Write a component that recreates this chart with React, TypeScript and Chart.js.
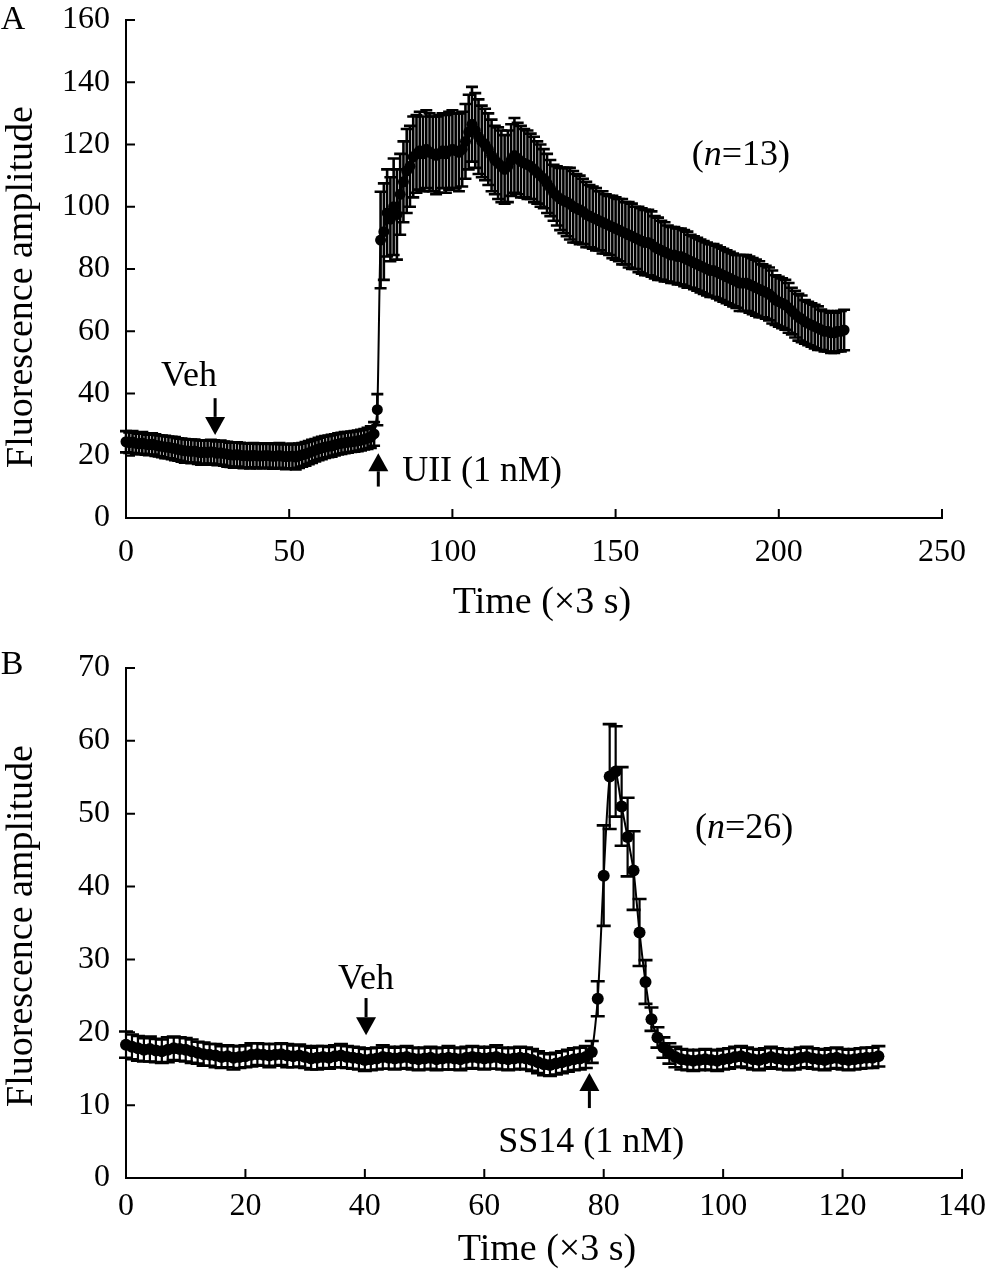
import React, { useEffect, useRef } from "react";
import { Chart, registerables } from "chart.js";
Chart.register(...registerables);

// ---------------- Panel A data ----------------
const meanA = [
  24.5, 24.2, 24.4, 24.0, 23.8, 24.1, 23.7, 23.5, 23.8, 23.4,
  23.2, 23.0, 22.8, 22.7, 22.5, 22.3, 22.0, 21.8, 21.6, 21.5,
  21.4, 21.5, 21.2, 21.0, 21.2, 21.0, 21.3, 21.1, 20.8, 21.0,
  20.7, 20.5, 20.3, 20.2, 20.4, 20.2, 20.0, 20.1, 19.9, 20.2,
  20.0, 19.9, 20.0, 20.1, 20.0, 19.8, 19.9, 20.1, 19.8, 19.7,
  19.8, 19.9, 19.6, 20.0, 20.3, 20.6, 21.0, 21.4, 21.8, 22.2,
  22.5, 22.8, 23.0, 23.2, 23.5, 23.8, 24.0, 24.2, 24.3, 24.5,
  24.6, 24.8, 25.0, 25.3, 25.6, 26.0, 27.0, 34.8, 89.3, 92.0,
  98.0, 96.0, 100.0, 97.5, 104.0, 108.0, 111.5, 113.0, 116.0, 117.0,
  118.0, 117.0, 118.5, 117.5, 117.0, 116.5, 117.0, 118.0, 117.0, 118.0,
  118.5, 118.0, 117.5, 118.5, 121.0, 124.0, 126.5, 124.5, 122.5, 121.0,
  120.0, 118.5, 116.5, 115.0, 114.0, 113.0, 112.0, 113.0, 115.0, 116.5,
  115.5, 114.5, 114.0, 113.5, 113.0, 112.0, 111.0, 110.0, 109.0, 107.5,
  106.0, 104.5, 103.5, 102.5, 102.0, 101.5, 101.0, 100.0, 99.5, 99.0,
  98.5, 97.5, 97.0, 96.5, 96.0, 95.5, 95.0, 94.5, 94.0, 93.5,
  93.0, 92.5, 92.0, 91.5, 91.0, 90.5, 90.0, 89.5, 89.0, 88.5,
  88.5, 88.0, 87.0, 86.5, 86.0, 85.5, 85.0, 84.5, 84.5, 84.0,
  84.0, 83.5, 83.0, 82.5, 82.0, 81.5, 81.0, 80.5, 80.0, 79.5,
  79.5, 79.0, 78.5, 78.0, 77.5, 77.0, 76.5, 76.0, 75.5, 75.5,
  75.5, 75.0, 74.5, 74.0, 73.5, 73.0, 72.5, 72.0, 71.0, 70.0,
  69.5, 69.0, 68.5, 67.5, 66.5, 65.5, 64.5, 64.0, 63.0, 62.5,
  62.0, 61.5, 61.0, 60.5, 60.0, 60.0, 59.5, 59.5, 60.0, 60.0,
  60.4,
];
const semA = [
  3.4, 3.3, 3.5, 3.4, 3.3, 3.5, 3.4, 3.3, 3.4, 3.5,
  3.4, 3.5, 3.6, 3.5, 3.6, 3.7, 3.6, 3.7, 3.8, 3.7,
  3.8, 3.7, 3.8, 3.9, 3.8, 3.9, 3.8, 3.9, 3.8, 3.9,
  3.9, 4.0, 3.9, 4.0, 3.9, 4.0, 4.0, 3.9, 4.0, 3.9,
  4.0, 3.9, 4.0, 3.9, 4.0, 4.0, 3.9, 4.0, 3.9, 4.0,
  4.0, 3.9, 4.0, 3.9, 3.8, 3.8, 3.7, 3.7, 3.6, 3.6,
  3.6, 3.5, 3.5, 3.5, 3.4, 3.4, 3.4, 3.4, 3.3, 3.3,
  3.3, 3.3, 3.3, 3.3, 3.4, 3.5, 3.8, 5.0, 15.5, 15.5,
  14.0, 13.5, 15.5, 14.5, 13.0, 13.0, 13.5, 13.0, 13.0, 12.5,
  12.5, 12.0, 12.5, 12.5, 12.0, 12.5, 12.5, 12.0, 12.5, 12.5,
  12.5, 12.0, 12.5, 12.0, 12.0, 12.0, 12.0, 12.0, 12.0, 11.5,
  11.5, 11.5, 11.5, 11.0, 11.5, 11.5, 11.0, 11.5, 11.5, 12.0,
  11.5, 11.5, 11.0, 11.0, 10.5, 10.5, 10.0, 10.0, 9.5, 9.5,
  9.0, 9.0, 9.5, 10.0, 10.5, 11.0, 11.5, 11.5, 11.0, 11.0,
  10.5, 10.5, 10.0, 10.0, 10.0, 9.5, 10.0, 9.5, 9.5, 10.0,
  10.0, 10.0, 10.5, 10.0, 10.5, 10.5, 10.0, 10.5, 10.5, 10.5,
  10.5, 10.5, 10.0, 10.0, 9.5, 9.5, 9.0, 9.0, 9.0, 9.0,
  9.0, 9.0, 9.0, 8.5, 8.5, 8.5, 8.5, 8.5, 8.5, 8.5,
  8.5, 8.5, 8.5, 8.5, 8.5, 8.5, 8.5, 8.5, 9.0, 9.0,
  9.0, 9.0, 9.0, 9.0, 9.0, 8.5, 8.5, 8.5, 8.5, 8.0,
  8.0, 8.0, 8.0, 8.0, 7.5, 7.5, 7.5, 7.5, 7.0, 7.0,
  7.0, 7.0, 7.0, 6.5, 6.5, 6.5, 6.5, 6.5, 6.5, 6.5,
  6.5,
];
const xTicksA = [0, 50, 100, 150, 200, 250];
const yTicksA = [0, 20, 40, 60, 80, 100, 120, 140, 160];

// ---------------- Panel B data ----------------
const meanB = [
  18.3, 18.0, 17.8, 17.6, 17.7, 17.5, 17.4, 17.6, 17.8, 17.7,
  17.6, 17.4, 17.2, 17.0, 16.9, 16.8, 16.6, 16.7, 16.5, 16.6,
  16.7, 16.9, 17.0, 16.9, 16.8, 16.9, 17.0, 16.8, 16.7, 16.8,
  16.6, 16.4, 16.5, 16.6, 16.5, 16.7, 16.8, 16.6, 16.5, 16.4,
  16.2, 16.3, 16.4, 16.6, 16.5, 16.4, 16.5, 16.6, 16.4, 16.3,
  16.4, 16.5, 16.3, 16.4, 16.5, 16.4, 16.3, 16.5, 16.6, 16.5,
  16.4, 16.5, 16.6, 16.4, 16.3, 16.4, 16.5, 16.4, 16.2, 15.9,
  15.6, 15.5, 15.7, 15.9, 16.1, 16.3, 16.4, 16.6, 17.3, 24.6,
  41.5, 55.1, 55.8, 51.0, 46.8, 42.2, 33.7, 26.9, 21.8, 19.3,
  17.9, 17.1, 16.6, 16.3, 16.2, 16.1, 16.2, 16.3, 16.2, 16.1,
  16.3, 16.4, 16.6, 16.7, 16.5, 16.3, 16.2, 16.4, 16.6, 16.4,
  16.3, 16.2, 16.3, 16.5, 16.6, 16.4, 16.3, 16.2, 16.4, 16.5,
  16.3, 16.2, 16.3, 16.4, 16.5, 16.5, 16.7,
];
const semB = [
  1.8, 1.7, 1.7, 1.6, 1.7, 1.6, 1.6, 1.7, 1.6, 1.6,
  1.6, 1.6, 1.5, 1.6, 1.5, 1.6, 1.5, 1.5, 1.6, 1.5,
  1.5, 1.6, 1.5, 1.5, 1.6, 1.5, 1.5, 1.6, 1.5, 1.5,
  1.5, 1.5, 1.6, 1.5, 1.5, 1.5, 1.6, 1.5, 1.5, 1.5,
  1.5, 1.5, 1.5, 1.6, 1.5, 1.5, 1.5, 1.5, 1.5, 1.5,
  1.5, 1.5, 1.5, 1.5, 1.6, 1.5, 1.5, 1.5, 1.5, 1.5,
  1.5, 1.5, 1.6, 1.5, 1.5, 1.5, 1.5, 1.5, 1.5, 1.5,
  1.5, 1.5, 1.5, 1.5, 1.5, 1.5, 1.5, 1.5, 1.5, 2.4,
  6.9, 7.2, 6.2, 5.4, 5.4, 5.4, 4.6, 3.0, 1.6, 1.4,
  1.4, 1.4, 1.4, 1.4, 1.4, 1.4, 1.4, 1.4, 1.4, 1.4,
  1.4, 1.4, 1.4, 1.4, 1.4, 1.4, 1.4, 1.4, 1.4, 1.4,
  1.4, 1.4, 1.4, 1.4, 1.4, 1.4, 1.4, 1.4, 1.4, 1.4,
  1.4, 1.4, 1.4, 1.4, 1.4, 1.4, 1.4,
];
const xTicksB = [0, 20, 40, 60, 80, 100, 120, 140];
const yTicksB = [0, 10, 20, 30, 40, 50, 60, 70];

const timeA = meanA.map((_, i) => i);
const timeB = meanB.map((_, i) => i);

const FONT = '"Liberation Serif", "Times New Roman", serif';
const TICK_SIZE = 32;
const NOTE_SIZE = 36;
const TITLE_SIZE = 38;

type Note = { parts: { t: string; italic?: boolean }[]; x: number; y: number; align: "left" | "center" };
type Arrow = { x: number; from: number; to: number };
type Spec = {
  letter: string;
  xs: number[]; means: number[]; sems: number[];
  xTicks: number[]; yTicks: number[];
  height: number; padTop: number; padRight: number; xAxisH: number;
  pointR: number; capHalf: number; stemW: number; capW: number; xTickPad: number;
  letterPos: [number, number];
  yTitleY: number; xTitleX: number; xTitleY: number;
  notes: Note[]; arrows: Arrow[];
};

const specA: Spec = {
  letter: "A",
  xs: timeA, means: meanA, sems: semA,
  xTicks: xTicksA, yTicks: yTicksA,
  height: 640, padTop: 20, padRight: 48, xAxisH: 122,
  pointR: 5.5, capHalf: 6, stemW: 2.6, capW: 2.6, xTickPad: 15,
  letterPos: [13, 20],
  yTitleY: 287, xTitleX: 542, xTitleY: 603,
  notes: [
    { parts: [{ t: "Veh" }], x: 19.3, y: 45.6, align: "center" },
    { parts: [{ t: "UII (1 nM)" }], x: 84.6, y: 14.8, align: "left" },
    { parts: [{ t: "(" }, { t: "n", italic: true }, { t: "=13)" }], x: 188.4, y: 116.6, align: "center" },
  ],
  arrows: [
    { x: 27.3, from: 38.5, to: 26.7 },
    { x: 77.3, from: 10.1, to: 20.8 },
  ],
};

const specB: Spec = {
  letter: "B",
  xs: timeB, means: meanB, sems: semB,
  xTicks: xTicksB, yTicks: yTicksB,
  height: 640, padTop: 28, padRight: 28, xAxisH: 102,
  pointR: 6, capHalf: 7, stemW: 2.2, capW: 2.6, xTickPad: 9,
  letterPos: [12, 25],
  yTitleY: 286, xTitleX: 547, xTitleY: 610,
  notes: [
    { parts: [{ t: "Veh" }], x: 40.2, y: 27.2, align: "center" },
    { parts: [{ t: "SS14 (1 nM)" }], x: 77.9, y: 4.8, align: "center" },
    { parts: [{ t: "(" }, { t: "n", italic: true }, { t: "=26)" }], x: 103.5, y: 47.9, align: "center" },
  ],
  arrows: [
    { x: 40.2, from: 24.7, to: 19.6 },
    { x: 77.6, from: 9.6, to: 14.4 },
  ],
};

function drawArrow(ctx: CanvasRenderingContext2D, x: number, yTail: number, yTip: number) {
  const dir = Math.sign(yTip - yTail);
  const headLen = 18;
  const headHalf = 10;
  ctx.lineWidth = 3;
  ctx.beginPath();
  ctx.moveTo(x, yTail);
  ctx.lineTo(x, yTip - dir * headLen);
  ctx.stroke();
  ctx.beginPath();
  ctx.moveTo(x, yTip);
  ctx.lineTo(x - headHalf, yTip - dir * headLen);
  ctx.lineTo(x + headHalf, yTip - dir * headLen);
  ctx.closePath();
  ctx.fill();
}

function drawParts(ctx: CanvasRenderingContext2D, parts: { t: string; italic?: boolean }[], x: number, y: number, align: "left" | "center", size: number) {
  const fontFor = (it?: boolean) => `${it ? "italic " : ""}${size}px ${FONT}`;
  let total = 0;
  for (const p of parts) {
    ctx.font = fontFor(p.italic);
    total += ctx.measureText(p.t).width;
  }
  let cx = align === "center" ? x - total / 2 : x;
  ctx.textAlign = "left";
  ctx.textBaseline = "middle";
  for (const p of parts) {
    ctx.font = fontFor(p.italic);
    ctx.fillText(p.t, cx, y);
    cx += ctx.measureText(p.t).width;
  }
}

function buildConfig(spec: Spec): any {
  const errPlugin = {
    id: "errbars",
    beforeDatasetsDraw(chart: any) {
      const { ctx, scales } = chart;
      const xs = scales.x, ys = scales.y;
      ctx.save();
      ctx.strokeStyle = "#000";
      for (let i = 0; i < spec.xs.length; i++) {
        const px = xs.getPixelForValue(spec.xs[i]);
        const top = ys.getPixelForValue(spec.means[i] + spec.sems[i]);
        const bot = ys.getPixelForValue(spec.means[i] - spec.sems[i]);
        ctx.lineWidth = spec.stemW;
        ctx.beginPath();
        ctx.moveTo(px, top);
        ctx.lineTo(px, bot);
        ctx.stroke();
        ctx.lineWidth = spec.capW;
        ctx.beginPath();
        ctx.moveTo(px - spec.capHalf, top);
        ctx.lineTo(px + spec.capHalf, top);
        ctx.moveTo(px - spec.capHalf, bot);
        ctx.lineTo(px + spec.capHalf, bot);
        ctx.stroke();
      }
      ctx.restore();
    },
  };

  const decoPlugin = {
    id: "deco",
    afterDraw(chart: any) {
      const { ctx, chartArea: ca, scales } = chart;
      const xs = scales.x, ys = scales.y;
      ctx.save();
      ctx.strokeStyle = "#000";
      ctx.fillStyle = "#000";
      ctx.lineWidth = 2;
      ctx.lineCap = "square";
      ctx.beginPath();
      ctx.moveTo(ca.left, ca.top);
      ctx.lineTo(ca.left, ca.bottom);
      ctx.lineTo(ca.right, ca.bottom);
      for (const t of ys.ticks) {
        const py = ys.getPixelForValue(t.value);
        ctx.moveTo(ca.left, py);
        ctx.lineTo(ca.left + 8, py);
      }
      for (const t of xs.ticks) {
        const px = xs.getPixelForValue(t.value);
        ctx.moveTo(px, ca.bottom);
        ctx.lineTo(px, ca.bottom - 8);
      }
      ctx.stroke();
      ctx.lineCap = "butt";

      ctx.textAlign = "center";
      ctx.textBaseline = "middle";
      // panel letter
      ctx.font = `34px ${FONT}`;
      ctx.fillText(spec.letter, spec.letterPos[0], spec.letterPos[1]);

      // axis titles
      ctx.font = `${TITLE_SIZE}px ${FONT}`;
      ctx.fillText("Time (\u00d73 s)", spec.xTitleX, spec.xTitleY);
      ctx.save();
      ctx.translate(22, spec.yTitleY);
      ctx.rotate(-Math.PI / 2);
      ctx.fillText("Fluorescence amplitude", 0, 0);
      ctx.restore();

      // notes
      for (const n of spec.notes) {
        drawParts(ctx, n.parts, xs.getPixelForValue(n.x), ys.getPixelForValue(n.y), n.align, NOTE_SIZE);
      }
      // arrows
      for (const a of spec.arrows) {
        drawArrow(ctx, xs.getPixelForValue(a.x), ys.getPixelForValue(a.from), ys.getPixelForValue(a.to));
      }
      ctx.restore();
    },
  };

  const xMax = spec.xTicks[spec.xTicks.length - 1];
  const yMax = spec.yTicks[spec.yTicks.length - 1];

  return {
    type: "line",
    data: {
      datasets: [
        {
          data: spec.xs.map((x, i) => ({ x, y: spec.means[i] })),
          borderColor: "#000",
          borderWidth: 2,
          pointRadius: spec.pointR,
          pointBackgroundColor: "#000",
          pointBorderColor: "#000",
          pointBorderWidth: 0,
          tension: 0.2,
          fill: false,
          clip: false,
        },
      ],
    },
    options: {
      responsive: false,
      animation: false,
      events: [],
      layout: { padding: { left: 0, right: spec.padRight, top: spec.padTop, bottom: 0 } },
      plugins: { legend: { display: false }, tooltip: { enabled: false }, title: { display: false } },
      scales: {
        x: {
          type: "linear",
          min: 0,
          max: xMax,
          afterBuildTicks: (s: any) => {
            s.ticks = spec.xTicks.map((v) => ({ value: v }));
          },
          afterFit: (s: any) => {
            s.height = spec.xAxisH;
            s.paddingLeft = 0;
            s.paddingRight = 0;
          },
          grid: { display: false, drawTicks: false, tickLength: 0 },
          border: { display: false },
          ticks: {
            color: "#000",
            font: { family: FONT, size: TICK_SIZE },
            padding: spec.xTickPad,
            maxRotation: 0,
            autoSkip: false,
          },
        },
        y: {
          type: "linear",
          min: 0,
          max: yMax,
          afterBuildTicks: (s: any) => {
            s.ticks = spec.yTicks.map((v) => ({ value: v }));
          },
          afterFit: (s: any) => {
            s.width = 126;
            s.paddingTop = 0;
            s.paddingBottom = 0;
          },
          grid: { display: false, drawTicks: false, tickLength: 0 },
          border: { display: false },
          ticks: {
            color: "#000",
            font: { family: FONT, size: TICK_SIZE },
            padding: 16,
            autoSkip: false,
          },
        },
      },
    },
    plugins: [errPlugin, decoPlugin],
  };
}

function Panel({ spec, top }: { spec: Spec; top: number }) {
  const ref = useRef<HTMLCanvasElement>(null);
  useEffect(() => {
    const chart = new Chart(ref.current as HTMLCanvasElement, buildConfig(spec));
    return () => chart.destroy();
  }, []);
  return (
    <canvas
      ref={ref}
      width={990}
      height={spec.height}
      style={{ position: "absolute", left: 0, top, width: 990, height: spec.height }}
    />
  );
}

export default function App() {
  return (
    <div style={{ position: "absolute", left: 0, top: 0, width: 990, height: 1280, background: "#fff" }}>
      <Panel spec={specA} top={0} />
      <Panel spec={specB} top={640} />
    </div>
  );
}
